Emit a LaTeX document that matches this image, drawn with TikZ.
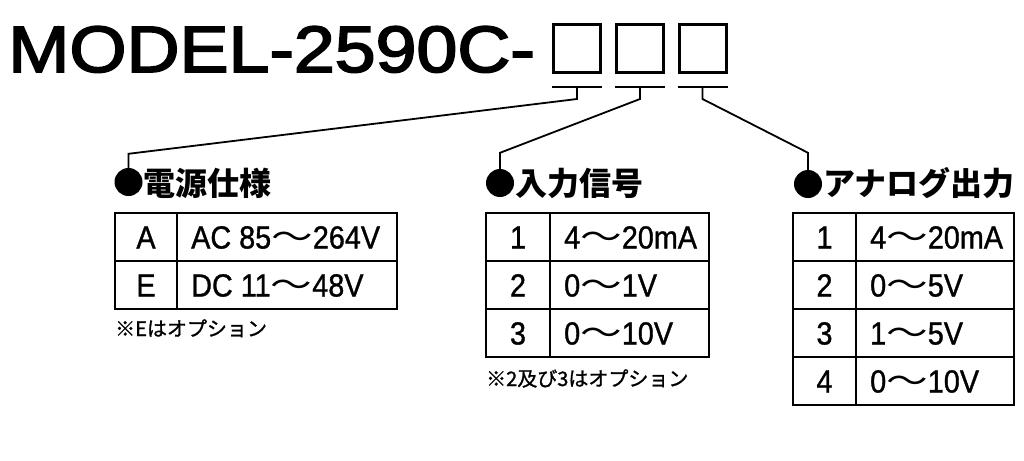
\documentclass[tikz,border=0pt]{standalone}
\usepackage{fontspec}
\setmainfont{Liberation Sans}
\newfontfamily\cjk{Noto Sans CJK JP}
\newfontfamily\cjknote[FakeBold=1.2]{Noto Sans CJK JP}
\newfontfamily\titlefont[FakeBold=2.5]{Liberation Sans}
\newfontfamily\cellfont[FakeStretch=0.9,FakeBold=1]{Liberation Sans}
\usetikzlibrary{shapes,calc}
\newcommand{\wave}{\scalebox{1.3}[1]{\cjk ～}}
\tikzset{
  codebox/.style={draw, line width=3pt, minimum width=47pt, minimum height=48pt, inner sep=0pt},
  conn/.style={line width=1.8pt},
  dot/.style={circle, fill, inner sep=0pt, minimum size=28pt},
  grid/.style={line width=1.6pt},
  head/.style={anchor=base west, inner sep=0pt, font=\cjk\bfseries\fontsize{32}{32}\selectfont},
  cell/.style={anchor=base, inner sep=0pt, font=\cellfont\fontsize{32}{32}\selectfont},
  note/.style={anchor=base west, inner sep=0pt, font=\cjknote\fontsize{20}{20}\selectfont}
}
\begin{document}
\begin{tikzpicture}[x=1pt, y=-1pt]
    \useasboundingbox (0,0) rectangle (1024,460);
    \node[anchor=base west, inner sep=0pt, font=\titlefont\fontsize{65.6}{66}\selectfont] (title) at (8,72) {\scalebox{1.12}[1]{MODEL-2590C-}};
    \node[codebox] (b1) at (577,48.5) {};
    \node[codebox] (b2) at (640,48.5) {};
    \node[codebox] (b3) at (702.5,48.5) {};

    % Headings
    \node[dot] (d1) at (128.5,182) {};
    \node[head] (h1) at (143,195) {電源仕様};
    \node[dot] (d2) at (500,183) {};
    \node[head] (h2) at (515,195) {入力信号};
    \node[dot] (d3) at (808,184) {};
    \node[head] (h3) at (823,195) {アナログ出力};

    % Brackets and leaders
    \foreach \b/\d/\s in {b1/d1/14, b2/d2/16, b3/d3/17} {
        \draw[conn] ([yshift=-13pt]\b.south west) -- ([yshift=-13pt]\b.south east);
        \draw[conn] ([yshift=-13pt]\b.south) -- ([yshift=-25pt]\b.south) -- ([yshift=\s pt]\d.north) -- (\d.north);
    }

    % Power supply
    \draw[grid] (115,213) rectangle (397,309);
    \draw[grid] (177,213) -- (177,309);
    \draw[grid] (115,261) -- (397,261);
    \foreach \y/\code/\spec [count=\i] in {248.5/A/AC 85\wave264V, 296.5/E/DC 11\wave48V} {
        \node[cell] (pc\i) at (146,\y) {\code};
        \node[cell, anchor=base west] (pv\i) at (191,\y) {\spec};
    }
    \node[note] (n1) at (115,336) {※Eはオプション};

    % Input signal
    \draw[grid] (486,213) rectangle (709,357);
    \draw[grid] (550,213) -- (550,357);
    \foreach \y in {261,309}
        \draw[grid] (486,\y) -- (709,\y);
    \foreach \y/\code/\spec [count=\i] in {248.5/1/4\wave20mA, 296.5/2/0\wave1V, 344.5/3/0\wave10V} {
        \node[cell] (ic\i) at (518,\y) {\code};
        \node[cell, anchor=base west] (iv\i) at (564,\y) {\spec};
    }
    \node[note] (n2) at (486,386) {※2及び3はオプション};

    % Analog output
    \draw[grid] (793,213) rectangle (1014,405);
    \draw[grid] (856,213) -- (856,405);
    \foreach \y in {261,309,357}
        \draw[grid] (793,\y) -- (1014,\y);
    \foreach \y/\code/\spec [count=\i] in {248.5/1/4\wave20mA, 296.5/2/0\wave5V, 344.5/3/1\wave5V, 392.5/4/0\wave10V} {
        \node[cell] (oc\i) at (824.5,\y) {\code};
        \node[cell, anchor=base west] (ov\i) at (870,\y) {\spec};
    }
\end{tikzpicture}
\end{document}
